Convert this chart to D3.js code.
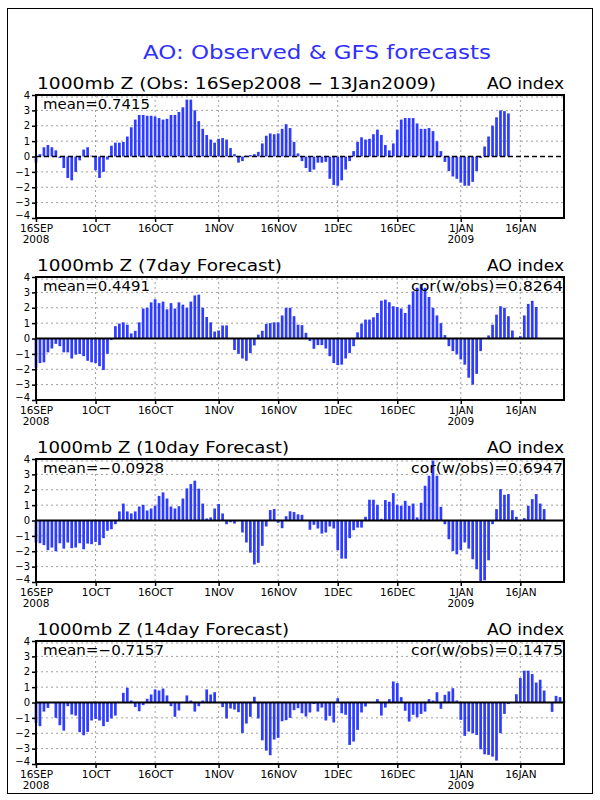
<!DOCTYPE html>
<html><head><meta charset="utf-8">
<script src="https://cdn.jsdelivr.net/npm/d3@7"></script>
<style>
body{margin:0;background:#fff;}
svg{display:block;}
text{font-family:"DejaVu Sans",sans-serif;}
</style></head>
<body><div id="chart"></div>
<script>
// ---------- data ----------
const startDay = "2008-09-16";
const endDay = "2009-01-27";
const tickDays = ["2008-09-16","2008-10-01","2008-10-16","2008-11-01","2008-11-16","2008-12-01","2008-12-16","2009-01-01","2009-01-16"];
const tickLabels = ["16SEP","1OCT","16OCT","1NOV","16NOV","1DEC","16DEC","1JAN","16JAN"];
const yearLabels = [["2008-09-16","2008"],["2009-01-01","2009"]];
const yTicks = [-4,-3,-2,-1,0,1,2,3,4];

const panelTitles = ["1000mb Z (Obs: 16Sep2008 \u2212 13Jan2009)","1000mb Z (7day Forecast)","1000mb Z (10day Forecast)","1000mb Z (14day Forecast)"];
const meanLabels = ["mean=0.7415","mean=0.4491","mean=\u22120.0928","mean=\u22120.7157"];
const corLabels = [null,"cor(w/obs)=0.8264","cor(w/obs)=0.6947","cor(w/obs)=0.1475"];

// daily values from 16 Sep 2008 (null = missing)
const obs = [
-0.4,0.15,0.6,0.75,0.6,0.4,-0.1,-0.75,-1.4,-1.55,
-1.0,-0.25,0.45,0.6,0.05,-0.9,-1.4,-1.0,-0.2,0.7,
0.9,0.9,0.95,1.3,1.9,2.4,2.7,2.7,2.65,2.65,
2.6,2.5,2.4,2.45,2.7,2.7,2.9,3.2,3.7,3.7,
3.0,2.3,1.8,1.4,1.1,0.9,1.15,1.2,1.1,0.55,
0.15,-0.4,-0.3,0.05,0.1,0.15,0.3,0.85,1.35,1.5,
1.45,1.5,1.8,2.1,1.85,0.95,0.2,-0.3,-0.75,-1.0,
-0.85,-0.4,-0.4,-0.35,-1.45,-1.85,-1.9,-1.55,-0.85,-0.3,
0.35,0.95,1.25,1.1,1.15,1.45,1.75,1.4,0.75,0.4,
0.85,1.75,2.4,2.5,2.5,2.5,2.15,1.8,1.8,1.85,
1.65,1.0,0.35,-0.35,-0.95,-1.3,-1.45,-1.7,-1.9,-1.9,
-1.65,-0.95,-0.1,0.65,1.3,2.0,2.55,3.0,2.95,2.8];

const fc7 = [
-1.9,-1.6,-1.55,-0.9,-0.65,-0.35,-0.5,-0.9,-0.9,-1.3,
-1.05,-1.0,-1.15,-1.45,-1.55,-1.6,-1.8,-2.05,-1.0,-0.1,
0.8,0.97,1.05,0.9,0.33,0.5,1.05,1.95,2.0,2.35,
2.55,2.3,2.4,1.9,2.3,1.95,2.35,2.2,2.0,2.4,
2.8,2.85,2.0,1.4,1.05,0.45,0.52,0.85,0.85,null,
-0.75,-1.0,-1.3,-1.45,-0.95,-0.45,0.25,0.5,0.95,1.0,
1.05,1.05,1.5,2.0,2.0,1.45,0.9,0.87,0.37,-0.17,
-0.67,-0.43,-0.43,-0.65,-1.15,-1.6,-1.73,-1.7,-1.3,-0.95,
-0.5,0.4,0.97,1.23,1.23,1.38,1.66,2.46,2.53,2.36,
2.1,2.05,1.95,1.66,2.2,3.07,3.3,3.55,3.3,2.7,
2.0,1.5,1.0,0.22,-0.5,-0.82,-1.04,-1.36,-1.7,-2.55,
-3.0,-2.3,-0.82,null,0.2,0.9,1.55,2.1,2.0,1.45,
0.52,null,0.15,1.5,2.25,2.45,2.05];

const fc10 = [
-1.43,-1.48,-1.6,-1.93,-1.76,-2.0,-1.48,-1.83,-1.43,-1.8,
-1.76,-1.48,-1.87,-1.5,-1.54,-1.39,-1.6,-1.15,-0.67,-0.57,
-0.24,0.59,1.1,0.59,0.46,0.59,0.91,1.02,0.65,0.78,
0.96,1.6,1.83,1.43,0.91,0.78,0.93,1.43,2.09,2.37,
2.59,2.07,1.1,0.13,0.2,0.78,1.07,0.46,-0.24,-0.11,
-0.2,null,-0.78,-1.43,-2.09,-2.86,-2.75,-1.65,-0.39,0.68,
0.75,-0.15,-0.5,0.28,0.6,0.55,0.4,0.37,null,-0.6,
-0.28,-0.52,-0.85,-0.78,-0.39,-0.52,-1.93,-2.48,-2.48,-1.15,
-0.63,-0.46,-0.46,0.24,1.35,1.35,1.02,0.11,1.33,1.22,
1.78,1.02,0.96,1.28,0.96,1.1,0.2,1.15,2.26,2.91,
3.9,2.91,0.89,-0.24,-1.22,-1.98,-2.2,-1.91,-1.43,-1.83,
-2.52,-3.17,-4.0,-3.89,-2.59,-0.24,0.74,2.04,1.67,1.72,
0.67,0.24,null,0.15,0.96,1.39,1.72,1.1,0.74];

const fc14 = [
-1.33,-1.54,-0.59,-0.35,null,-1.0,-1.48,-1.83,-0.24,-0.78,
-0.85,-1.93,-2.13,-1.91,-1.17,-1.07,-1.17,-1.54,-1.26,-1.04,
-0.85,null,0.63,0.96,0.13,-0.3,-0.57,-0.17,0.24,0.52,
0.85,0.78,0.91,0.46,-0.24,-0.93,-0.52,null,0.46,0.13,
-0.59,-0.24,0.13,0.85,0.52,0.67,null,-0.3,-1.04,-0.39,
-0.46,-0.63,-1.98,-1.37,-0.93,0.37,-1.04,-2.46,-3.13,-3.43,
-2.41,-2.3,-1.22,-1.15,-1.0,-0.5,-0.37,-0.7,-0.91,-0.65,
-0.1,-0.59,-0.33,-1.17,-0.87,-1.3,0.28,-0.7,-0.8,-2.76,
-2.54,-1.78,-0.65,-0.26,null,null,0.22,-0.85,-0.33,0.22,
1.37,1.26,0.35,-0.54,-1.24,-0.8,-0.96,-0.74,-0.59,0.22,
0.13,0.67,-0.41,0.5,0.72,0.93,0.13,-1.13,-2.17,-1.89,
-2.0,-2.11,-3.04,-3.37,-3.41,-3.52,-3.78,-2.0,-0.74,-0.1,
null,0.54,1.59,2.07,2.07,1.85,1.3,1.48,0.78,null,
-0.61,0.43,0.35,0.07];

const series = [obs, fc7, fc10, fc14];

// ---------- drawing ----------
const W = 600, H = 800;
const svg = d3.select("#chart").append("svg").attr("width", W).attr("height", H);
svg.append("rect").attr("x",7.5).attr("y",8.5).attr("width",585).attr("height",785)
  .attr("fill","none").attr("stroke","#000").attr("stroke-width",1);

svg.append("text").attr("x",143).attr("y",59).attr("font-size",20)
  .attr("fill","#2f2fff").attr("textLength",348).attr("lengthAdjust","spacingAndGlyphs")
  .text("AO: Observed & GFS forecasts");

const parse = d3.utcParse("%Y-%m-%d");
const dayMs = 86400000;
const x = d3.scaleUtc().domain([parse(startDay), parse(endDay)]).range([36, 564]);
const tops = [95, 277, 459, 641];
const ph = 123;
const titleLens = [399, 245, 252, 252];
const barW = 2.7;
const barColor = "#2d3cff";

series.forEach((vals, p) => {
  const top = tops[p];
  const y = d3.scaleLinear().domain([-4, 4]).range([top + ph, top]);
  const g = svg.append("g");

  // grid
  g.selectAll("line.hg").data(yTicks.filter(v => v !== 0 && v !== -4)).enter().append("line")
    .attr("x1", 36).attr("x2", 564).attr("y1", d => y(d) + (d === 4 ? 2 : 0)).attr("y2", d => y(d) + (d === 4 ? 2 : 0))
    .attr("stroke", "#a0a0a0").attr("stroke-width", 1).attr("stroke-dasharray", "2,3");
  g.selectAll("line.vg").data(tickDays.slice(1)).enter().append("line")
    .attr("x1", d => x(parse(d))).attr("x2", d => x(parse(d)))
    .attr("y1", top).attr("y2", top + ph)
    .attr("stroke", "#a0a0a0").attr("stroke-width", 1).attr("stroke-dasharray", "2,3");

  // bars
  const data = vals.map((v, i) => ({ d: new Date(parse(startDay).getTime() + i * dayMs), v }))
    .filter(o => o.v !== null);
  g.selectAll("rect.bar").data(data).enter().append("rect")
    .attr("x", o => x(o.d) - barW / 2)
    .attr("width", barW)
    .attr("y", o => Math.min(y(o.v), y(0)))
    .attr("height", o => Math.abs(y(o.v) - y(0)))
    .attr("fill", barColor);

  // zero line
  g.append("line").attr("x1", 36).attr("x2", 564).attr("y1", y(0)).attr("y2", y(0))
    .attr("stroke", "#000").attr("stroke-width", p === 0 ? 1.5 : 2)
    .attr("stroke-dasharray", p === 0 ? "5,3" : null);

  // frame
  g.append("rect").attr("x", 36).attr("y", top).attr("width", 528).attr("height", ph)
    .attr("fill", "none").attr("stroke", "#000").attr("stroke-width", 2);

  // y axis
  const ya = g.append("g").attr("transform", "translate(36,0)")
    .call(d3.axisLeft(y).tickValues(yTicks).tickSize(4).tickPadding(2).tickFormat(d3.format("d")));
  ya.select(".domain").remove();
  ya.selectAll("text").attr("font-size", 10).attr("font-family", "DejaVu Sans")
    .attr("dy", d => d === -4 ? "0.05em" : "0.32em");
  ya.selectAll("line").attr("stroke-width", 1.5);

  // x axis
  const xa = g.append("g").attr("transform", `translate(0,${top + ph})`)
    .call(d3.axisBottom(x).tickValues(tickDays.map(parse)).tickSize(4).tickPadding(3)
      .tickFormat((d, i) => tickLabels[i]));
  xa.select(".domain").remove();
  xa.selectAll("text").attr("font-size", 10.5).attr("font-family", "DejaVu Sans Condensed, DejaVu Sans").attr("dy", "0.62em");
  xa.selectAll("line").attr("stroke-width", 1.5);
  yearLabels.forEach(([d, t]) => {
    g.append("text").attr("x", x(parse(d))).attr("y", top + ph + 25).attr("text-anchor", "middle")
      .attr("font-size", 10.5).attr("font-family", "DejaVu Sans Condensed, DejaVu Sans").text(t);
  });

  // titles
  g.append("text").attr("x", 37).attr("y", top - 6).attr("font-size", 16)
    .attr("textLength", titleLens[p]).attr("lengthAdjust", "spacingAndGlyphs").text(panelTitles[p]);
  g.append("text").attr("x", 487).attr("y", top - 6).attr("font-size", 16)
    .attr("textLength", 77).attr("lengthAdjust", "spacingAndGlyphs").text("AO index");
  g.append("text").attr("x", 43).attr("y", top + 14).attr("font-size", 14)
    .attr("textLength", p >= 2 ? 121 : 107).attr("lengthAdjust", "spacingAndGlyphs").text(meanLabels[p]);
  if (corLabels[p]) {
    g.append("text").attr("x", 411).attr("y", top + 14).attr("font-size", 14)
      .attr("textLength", 152).attr("lengthAdjust", "spacingAndGlyphs").text(corLabels[p]);
  }
});
</script></body></html>
